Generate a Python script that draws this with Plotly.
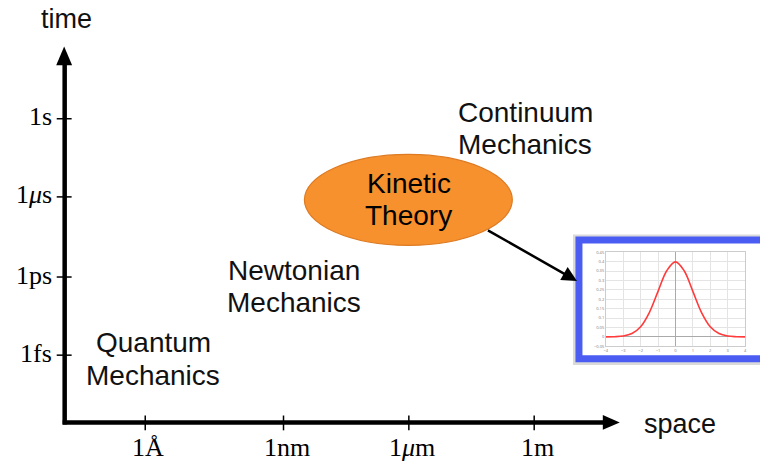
import plotly.graph_objects as go

# ---------------- data ----------------
space_ticks = ["1Å", "1nm", "1<i>μ</i>m", "1m"]
space_tick_px = [144, 283, 409, 535]
time_ticks = ["1s", "1<i>μ</i>s", "1ps", "1fs"]
time_tick_px = [117, 196, 277, 356]

regime_line1 = ["Quantum", "Newtonian", "Continuum"]
regime_line2 = ["Mechanics", "Mechanics", "Mechanics"]
regime_x = [152, 294, 526]
regime_y1 = [343, 270, 111]
regime_y2 = [377, 303, 143]

# inset: Gaussian-shaped distribution
inset_x = [-4, -3.5, -3, -2.5, -2, -1.5, -1, -0.5, 0, 0.5, 1, 1.5, 2, 2.5, 3, 3.5, 4]
inset_y = [0.0001, 0.0009, 0.0044, 0.0175, 0.054, 0.1295, 0.242, 0.352, 0.399,
           0.352, 0.242, 0.1295, 0.054, 0.0175, 0.0044, 0.0009, 0.0001]

W, H = 762, 464
SANS = "Liberation Sans, Arial, sans-serif"
SERIF = "Liberation Serif, Times New Roman, serif"

fig = go.Figure()

# inset curve
fig.add_trace(go.Scatter(x=inset_x, y=inset_y, mode="lines", xaxis="x2", yaxis="y2",
                         line=dict(color="#FF3B3B", width=1.6, shape="spline"),
                         hoverinfo="skip", showlegend=False))

shapes = []
# inset frame shadow and blue frame
shapes.append(dict(type="rect", xref="x", yref="y", x0=574, x1=780, y0=234, y1=366,
                   line=dict(width=0), fillcolor="rgba(150,150,150,0.35)", layer="below"))
shapes.append(dict(type="rect", xref="x", yref="y", x0=580, x1=775, y0=239.5, y1=359.5,
                   line=dict(color="#4B5CF3", width=7), fillcolor="white", layer="below"))

# axes lines
shapes.append(dict(type="line", xref="x", yref="y", x0=63, x1=63, y0=426, y1=60,
                   line=dict(color="black", width=4.5)))
shapes.append(dict(type="line", xref="x", yref="y", x0=61, x1=607, y0=424, y1=424,
                   line=dict(color="black", width=4.5)))
# arrow heads
shapes.append(dict(type="path", xref="x", yref="y", path="M 62.5 44 L 70.5 63 L 54.5 63 Z",
                   fillcolor="black", line=dict(width=0)))
shapes.append(dict(type="path", xref="x", yref="y", path="M 621 424 L 604 416.5 L 604 431.5 Z",
                   fillcolor="black", line=dict(width=0)))
# ticks
for px in space_tick_px:
    shapes.append(dict(type="line", xref="x", yref="y", x0=px, x1=px, y0=417, y1=432,
                       line=dict(color="black", width=1.5)))
for py in time_tick_px:
    shapes.append(dict(type="line", xref="x", yref="y", x0=55, x1=70, y0=py, y1=py,
                       line=dict(color="black", width=1.5)))

# kinetic theory ellipse
shapes.append(dict(type="circle", xref="x", yref="y", x0=304, x1=513, y0=153, y1=245,
                   fillcolor="#F7912E", line=dict(color="#DD7A22", width=1.2)))

annotations = []
for t, px in zip(space_ticks, space_tick_px):
    annotations.append(dict(x=px + 3, y=449, xref="x", yref="y", text=t, showarrow=False,
                            font=dict(family=SERIF, size=26, color="black"),
                            xanchor="center", yanchor="middle"))
for t, py in zip(time_ticks, time_tick_px):
    annotations.append(dict(x=52, y=py - 2, xref="x", yref="y", text=t, showarrow=False,
                            font=dict(family=SERIF, size=26, color="black"),
                            xanchor="right", yanchor="middle"))
for l1, l2, px, y1, y2 in zip(regime_line1, regime_line2, regime_x, regime_y1, regime_y2):
    for t, py in ((l1, y1), (l2, y2)):
        annotations.append(dict(x=px, y=py, xref="x", yref="y", text=t, showarrow=False,
                                font=dict(family=SANS, size=28, color="#111111"),
                                xanchor="center", yanchor="middle"))
for t, py in (("Kinetic", 182), ("Theory", 215)):
    annotations.append(dict(x=409, y=py, xref="x", yref="y", text=t,
                            showarrow=False, font=dict(family=SANS, size=28, color="black"),
                            xanchor="center", yanchor="middle"))
annotations.append(dict(x=65, y=16, xref="x", yref="y", text="time", showarrow=False,
                        font=dict(family=SANS, size=27, color="#111111"),
                        xanchor="center", yanchor="middle"))
annotations.append(dict(x=643, y=426, xref="x", yref="y", text="space", showarrow=False,
                        font=dict(family=SANS, size=27, color="#111111"),
                        xanchor="left", yanchor="middle"))
# pointer arrow from ellipse to inset
annotations.append(dict(x=578, y=281, ax=487, ay=229, xref="x", yref="y", axref="x", ayref="y",
                        text="", showarrow=True, arrowhead=2, arrowsize=1.2, arrowwidth=2.5,
                        arrowcolor="black"))

fig.update_layout(
    width=W, height=H, margin=dict(l=0, r=0, t=0, b=0),
    paper_bgcolor="white", plot_bgcolor="rgba(0,0,0,0)",
    xaxis=dict(range=[0, W], visible=False, domain=[0, 1], fixedrange=True),
    yaxis=dict(range=[H, 0], visible=False, domain=[0, 1], fixedrange=True),
    xaxis2=dict(domain=[607 / W, 747 / W], anchor="y2", range=[-4, 4], dtick=1,
                showgrid=True, gridcolor="#E4E4E4", gridwidth=0.6,
                zeroline=True, zerolinecolor="#AAAAAA", zerolinewidth=1.2,
                showline=True, linecolor="#CCCCCC", linewidth=0.6, mirror=True,
                tickfont=dict(size=4, color="#777777"), ticks="", fixedrange=True),
    yaxis2=dict(domain=[1 - 347 / H, 1 - 252 / H], anchor="x2", range=[-0.05, 0.45], dtick=0.05,
                showgrid=True, gridcolor="#E4E4E4", gridwidth=0.6,
                zeroline=True, zerolinecolor="#AAAAAA", zerolinewidth=1.2,
                showline=True, linecolor="#CCCCCC", linewidth=0.6, mirror=True,
                tickfont=dict(size=4, color="#777777"), ticks="", fixedrange=True),
    shapes=shapes, annotations=annotations, showlegend=False,
)

fig.write_html("out.html", config={"displayModeBar": False},
               post_script="document.body.style.margin='0';document.body.style.overflow='hidden';")
